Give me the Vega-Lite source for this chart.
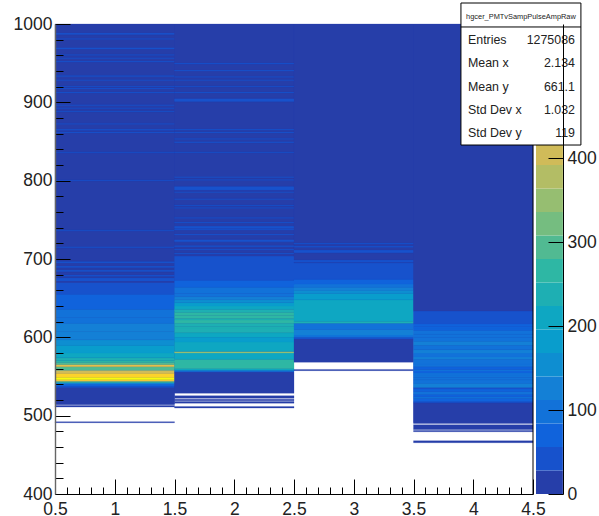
{"$schema":"https://vega.github.io/schema/vega-lite/v6.json","width":478,"height":470,"autosize":"none","padding":{"left":55,"top":24,"right":66,"bottom":22},"background":"white","config":{"view":{"stroke":null},"font":"Liberation Sans"},
"datasets":{"cells":[
{"s0":0.5,"s1":1.5,"lo":491,"hi":492.3,"z":10},{"s0":0.5,"s1":1.5,"lo":511,"hi":513,"z":10},{"s0":0.5,"s1":1.5,"lo":514,"hi":536,"z":10},{"s0":0.5,"s1":1.5,"lo":536,"hi":538,"z":45},{"s0":0.5,"s1":1.5,"lo":538,"hi":540,"z":75},{"s0":0.5,"s1":1.5,"lo":540,"hi":542,"z":130},{"s0":0.5,"s1":1.5,"lo":542,"hi":544,"z":270},{"s0":0.5,"s1":1.5,"lo":544,"hi":546,"z":470},{"s0":0.5,"s1":1.5,"lo":546,"hi":549,"z":535},{"s0":0.5,"s1":1.5,"lo":549,"hi":554,"z":490},{"s0":0.5,"s1":1.5,"lo":554,"hi":558,"z":400},{"s0":0.5,"s1":1.5,"lo":558,"hi":562.5,"z":285},{"s0":0.5,"s1":1.5,"lo":562.5,"hi":565.3,"z":440},{"s0":0.5,"s1":1.5,"lo":565.3,"hi":568,"z":300},{"s0":0.5,"s1":1.5,"lo":568,"hi":570,"z":270},{"s0":0.5,"s1":1.5,"lo":570,"hi":574,"z":250},{"s0":0.5,"s1":1.5,"lo":574,"hi":580,"z":215},{"s0":0.5,"s1":1.5,"lo":580,"hi":590,"z":190},{"s0":0.5,"s1":1.5,"lo":590,"hi":597,"z":160},{"s0":0.5,"s1":1.5,"lo":597,"hi":607,"z":125},{"s0":0.5,"s1":1.5,"lo":607,"hi":618,"z":115},{"s0":0.5,"s1":1.5,"lo":618,"hi":625,"z":100},{"s0":0.5,"s1":1.5,"lo":625,"hi":636,"z":85},{"s0":0.5,"s1":1.5,"lo":636,"hi":655,"z":60},{"s0":0.5,"s1":1.5,"lo":655,"hi":670,"z":42},{"s0":0.5,"s1":1.5,"lo":670,"hi":672,"z":15},{"s0":0.5,"s1":1.5,"lo":672,"hi":676,"z":42},{"s0":0.5,"s1":1.5,"lo":676,"hi":678,"z":15},{"s0":0.5,"s1":1.5,"lo":678,"hi":680,"z":42},{"s0":0.5,"s1":1.5,"lo":680,"hi":684,"z":15},{"s0":0.5,"s1":1.5,"lo":684,"hi":686,"z":42},{"s0":0.5,"s1":1.5,"lo":686,"hi":689,"z":15},{"s0":0.5,"s1":1.5,"lo":689,"hi":691,"z":42},{"s0":0.5,"s1":1.5,"lo":691,"hi":695,"z":15},{"s0":0.5,"s1":1.5,"lo":695,"hi":697,"z":42},{"s0":0.5,"s1":1.5,"lo":697,"hi":714.5,"z":10},
{"s0":0.5,"s1":1.5,"lo":714.5,"hi":715.8,"z":35},{"s0":0.5,"s1":1.5,"lo":715.8,"hi":736,"z":10},{"s0":0.5,"s1":1.5,"lo":736,"hi":737.5,"z":35},{"s0":0.5,"s1":1.5,"lo":737.5,"hi":800,"z":10},{"s0":0.5,"s1":1.5,"lo":800,"hi":801.3,"z":35},{"s0":0.5,"s1":1.5,"lo":801.3,"hi":835.5,"z":10},{"s0":0.5,"s1":1.5,"lo":835.5,"hi":837,"z":35},{"s0":0.5,"s1":1.5,"lo":837,"hi":861,"z":10},{"s0":0.5,"s1":1.5,"lo":861,"hi":862.3,"z":35},{"s0":0.5,"s1":1.5,"lo":862.3,"hi":864.5,"z":10},{"s0":0.5,"s1":1.5,"lo":864.5,"hi":865.8,"z":35},{"s0":0.5,"s1":1.5,"lo":865.8,"hi":872,"z":10},{"s0":0.5,"s1":1.5,"lo":872,"hi":873.3,"z":35},{"s0":0.5,"s1":1.5,"lo":873.3,"hi":888,"z":10},{"s0":0.5,"s1":1.5,"lo":888,"hi":889.3,"z":35},{"s0":0.5,"s1":1.5,"lo":889.3,"hi":892,"z":10},{"s0":0.5,"s1":1.5,"lo":892,"hi":893.3,"z":35},{"s0":0.5,"s1":1.5,"lo":893.3,"hi":896,"z":10},{"s0":0.5,"s1":1.5,"lo":896,"hi":897.3,"z":35},{"s0":0.5,"s1":1.5,"lo":897.3,"hi":912,"z":10},{"s0":0.5,"s1":1.5,"lo":912,"hi":913.3,"z":35},{"s0":0.5,"s1":1.5,"lo":913.3,"hi":917,"z":10},{"s0":0.5,"s1":1.5,"lo":917,"hi":918.3,"z":35},{"s0":0.5,"s1":1.5,"lo":918.3,"hi":920,"z":10},{"s0":0.5,"s1":1.5,"lo":920,"hi":921.3,"z":35},{"s0":0.5,"s1":1.5,"lo":921.3,"hi":928,"z":10},{"s0":0.5,"s1":1.5,"lo":928,"hi":929.3,"z":35},{"s0":0.5,"s1":1.5,"lo":929.3,"hi":933,"z":10},{"s0":0.5,"s1":1.5,"lo":933,"hi":934.5,"z":35},{"s0":0.5,"s1":1.5,"lo":934.5,"hi":951.5,"z":10},{"s0":0.5,"s1":1.5,"lo":951.5,"hi":952.8,"z":35},{"s0":0.5,"s1":1.5,"lo":952.8,"hi":956,"z":10},{"s0":0.5,"s1":1.5,"lo":956,"hi":957.3,"z":35},{"s0":0.5,"s1":1.5,"lo":957.3,"hi":960,"z":10},{"s0":0.5,"s1":1.5,"lo":960,"hi":961.3,"z":35},{"s0":0.5,"s1":1.5,"lo":961.3,"hi":968,"z":10},{"s0":0.5,"s1":1.5,"lo":968,"hi":970,"z":35},{"s0":0.5,"s1":1.5,"lo":970,"hi":980.5,"z":10},{"s0":0.5,"s1":1.5,"lo":980.5,"hi":981.8,"z":35},{"s0":0.5,"s1":1.5,"lo":981.8,"hi":986.5,"z":10},{"s0":0.5,"s1":1.5,"lo":986.5,"hi":988.5,"z":35},{"s0":0.5,"s1":1.5,"lo":988.5,"hi":1000,"z":10},
{"s0":1.5,"s1":2.5,"lo":509.7,"hi":511.8,"z":10},{"s0":1.5,"s1":2.5,"lo":516,"hi":518,"z":10},{"s0":1.5,"s1":2.5,"lo":519.1,"hi":520.9,"z":10},{"s0":1.5,"s1":2.5,"lo":522.2,"hi":525.5,"z":10},{"s0":1.5,"s1":2.5,"lo":528.6,"hi":556,"z":10},{"s0":1.5,"s1":2.5,"lo":556,"hi":558,"z":110},{"s0":1.5,"s1":2.5,"lo":558,"hi":560,"z":200},{"s0":1.5,"s1":2.5,"lo":560,"hi":572,"z":260},{"s0":1.5,"s1":2.5,"lo":572,"hi":580,"z":220},{"s0":1.5,"s1":2.5,"lo":580,"hi":582,"z":345},{"s0":1.5,"s1":2.5,"lo":582,"hi":594,"z":205},{"s0":1.5,"s1":2.5,"lo":594,"hi":600,"z":195},{"s0":1.5,"s1":2.5,"lo":600,"hi":606,"z":215},{"s0":1.5,"s1":2.5,"lo":606,"hi":612,"z":235},{"s0":1.5,"s1":2.5,"lo":612,"hi":614,"z":235},{"s0":1.5,"s1":2.5,"lo":614,"hi":618,"z":250},{"s0":1.5,"s1":2.5,"lo":618,"hi":622,"z":270},{"s0":1.5,"s1":2.5,"lo":622,"hi":624,"z":240},{"s0":1.5,"s1":2.5,"lo":624,"hi":628,"z":275},{"s0":1.5,"s1":2.5,"lo":628,"hi":632,"z":265},{"s0":1.5,"s1":2.5,"lo":632,"hi":636,"z":240},{"s0":1.5,"s1":2.5,"lo":636,"hi":640,"z":215},{"s0":1.5,"s1":2.5,"lo":640,"hi":644,"z":195},{"s0":1.5,"s1":2.5,"lo":644,"hi":648,"z":160},{"s0":1.5,"s1":2.5,"lo":648,"hi":652,"z":130},{"s0":1.5,"s1":2.5,"lo":652,"hi":656,"z":110},{"s0":1.5,"s1":2.5,"lo":656,"hi":664,"z":95},{"s0":1.5,"s1":2.5,"lo":664,"hi":673,"z":75},{"s0":1.5,"s1":2.5,"lo":673,"hi":703.8,"z":45},
{"s0":1.5,"s1":2.5,"lo":703.8,"hi":706.4,"z":12},{"s0":1.5,"s1":2.5,"lo":706.4,"hi":707.7,"z":35},{"s0":1.5,"s1":2.5,"lo":707.7,"hi":711.5,"z":12},{"s0":1.5,"s1":2.5,"lo":711.5,"hi":712.8,"z":35},{"s0":1.5,"s1":2.5,"lo":712.8,"hi":715.7,"z":12},{"s0":1.5,"s1":2.5,"lo":715.7,"hi":717.5,"z":35},{"s0":1.5,"s1":2.5,"lo":717.5,"hi":722,"z":12},{"s0":1.5,"s1":2.5,"lo":722,"hi":725,"z":35},{"s0":1.5,"s1":2.5,"lo":725,"hi":730.6,"z":12},{"s0":1.5,"s1":2.5,"lo":730.6,"hi":731.9,"z":35},{"s0":1.5,"s1":2.5,"lo":731.9,"hi":737,"z":12},{"s0":1.5,"s1":2.5,"lo":737,"hi":738.3,"z":35},{"s0":1.5,"s1":2.5,"lo":738.3,"hi":739,"z":12},{"s0":1.5,"s1":2.5,"lo":739,"hi":742,"z":35},{"s0":1.5,"s1":2.5,"lo":742,"hi":746,"z":12},{"s0":1.5,"s1":2.5,"lo":746,"hi":747.3,"z":35},{"s0":1.5,"s1":2.5,"lo":747.3,"hi":752,"z":12},{"s0":1.5,"s1":2.5,"lo":752,"hi":753.3,"z":35},{"s0":1.5,"s1":2.5,"lo":753.3,"hi":764.7,"z":12},{"s0":1.5,"s1":2.5,"lo":764.7,"hi":766,"z":35},{"s0":1.5,"s1":2.5,"lo":766,"hi":768,"z":12},{"s0":1.5,"s1":2.5,"lo":768,"hi":769.3,"z":35},{"s0":1.5,"s1":2.5,"lo":769.3,"hi":776,"z":12},{"s0":1.5,"s1":2.5,"lo":776,"hi":777.3,"z":35},{"s0":1.5,"s1":2.5,"lo":777.3,"hi":785,"z":12},{"s0":1.5,"s1":2.5,"lo":785,"hi":786.3,"z":35},{"s0":1.5,"s1":2.5,"lo":786.3,"hi":788,"z":12},{"s0":1.5,"s1":2.5,"lo":788,"hi":793,"z":35},{"s0":1.5,"s1":2.5,"lo":793,"hi":800.5,"z":12},{"s0":1.5,"s1":2.5,"lo":800.5,"hi":801.8,"z":35},{"s0":1.5,"s1":2.5,"lo":801.8,"hi":804,"z":12},{"s0":1.5,"s1":2.5,"lo":804,"hi":805.3,"z":35},{"s0":1.5,"s1":2.5,"lo":805.3,"hi":835.7,"z":12},{"s0":1.5,"s1":2.5,"lo":835.7,"hi":837,"z":35},{"s0":1.5,"s1":2.5,"lo":837,"hi":848.5,"z":12},{"s0":1.5,"s1":2.5,"lo":848.5,"hi":850,"z":35},{"s0":1.5,"s1":2.5,"lo":850,"hi":852.8,"z":12},{"s0":1.5,"s1":2.5,"lo":852.8,"hi":854.1,"z":35},{"s0":1.5,"s1":2.5,"lo":854.1,"hi":861,"z":12},{"s0":1.5,"s1":2.5,"lo":861,"hi":862.3,"z":35},{"s0":1.5,"s1":2.5,"lo":862.3,"hi":864.8,"z":12},{"s0":1.5,"s1":2.5,"lo":864.8,"hi":866.1,"z":35},{"s0":1.5,"s1":2.5,"lo":866.1,"hi":901,"z":12},{"s0":1.5,"s1":2.5,"lo":901,"hi":905,"z":35},{"s0":1.5,"s1":2.5,"lo":905,"hi":912,"z":12},{"s0":1.5,"s1":2.5,"lo":912,"hi":913.3,"z":35},{"s0":1.5,"s1":2.5,"lo":913.3,"hi":920,"z":12},{"s0":1.5,"s1":2.5,"lo":920,"hi":921.3,"z":35},{"s0":1.5,"s1":2.5,"lo":921.3,"hi":928,"z":12},{"s0":1.5,"s1":2.5,"lo":928,"hi":929.3,"z":35},{"s0":1.5,"s1":2.5,"lo":929.3,"hi":932,"z":12},{"s0":1.5,"s1":2.5,"lo":932,"hi":933.3,"z":35},{"s0":1.5,"s1":2.5,"lo":933.3,"hi":940,"z":12},{"s0":1.5,"s1":2.5,"lo":940,"hi":941.3,"z":35},{"s0":1.5,"s1":2.5,"lo":941.3,"hi":949,"z":12},{"s0":1.5,"s1":2.5,"lo":949,"hi":950.3,"z":35},{"s0":1.5,"s1":2.5,"lo":950.3,"hi":1000,"z":12},
{"s0":2.5,"s1":3.5,"lo":557.5,"hi":559,"z":10},{"s0":2.5,"s1":3.5,"lo":568.2,"hi":598,"z":10},{"s0":2.5,"s1":3.5,"lo":598,"hi":600,"z":45},{"s0":2.5,"s1":3.5,"lo":600,"hi":603,"z":100},{"s0":2.5,"s1":3.5,"lo":603,"hi":610,"z":135},{"s0":2.5,"s1":3.5,"lo":610,"hi":618,"z":100},{"s0":2.5,"s1":3.5,"lo":618,"hi":620.5,"z":250},{"s0":2.5,"s1":3.5,"lo":620.5,"hi":648,"z":215},{"s0":2.5,"s1":3.5,"lo":648,"hi":656,"z":185},{"s0":2.5,"s1":3.5,"lo":656,"hi":660,"z":155},{"s0":2.5,"s1":3.5,"lo":660,"hi":664,"z":130},{"s0":2.5,"s1":3.5,"lo":664,"hi":668,"z":100},{"s0":2.5,"s1":3.5,"lo":668,"hi":674,"z":75},{"s0":2.5,"s1":3.5,"lo":674,"hi":695,"z":45},{"s0":2.5,"s1":3.5,"lo":695,"hi":696,"z":15},{"s0":2.5,"s1":3.5,"lo":696,"hi":699,"z":35},{"s0":2.5,"s1":3.5,"lo":699,"hi":708,"z":15},{"s0":2.5,"s1":3.5,"lo":708,"hi":711.5,"z":35},{"s0":2.5,"s1":3.5,"lo":711.5,"hi":715,"z":15},{"s0":2.5,"s1":3.5,"lo":715,"hi":716.5,"z":35},{"s0":2.5,"s1":3.5,"lo":716.5,"hi":719,"z":15},{"s0":2.5,"s1":3.5,"lo":719,"hi":720.5,"z":35},{"s0":2.5,"s1":3.5,"lo":720.5,"hi":1000,"z":8},
{"s0":3.5,"s1":4.5,"lo":465.5,"hi":468,"z":10},{"s0":3.5,"s1":4.5,"lo":479.5,"hi":481,"z":10},{"s0":3.5,"s1":4.5,"lo":481.8,"hi":482.5,"z":10},{"s0":3.5,"s1":4.5,"lo":483,"hi":488.5,"z":10},{"s0":3.5,"s1":4.5,"lo":490,"hi":516.5,"z":10},{"s0":3.5,"s1":4.5,"lo":516.5,"hi":518,"z":45},{"s0":3.5,"s1":4.5,"lo":518,"hi":522,"z":70},{"s0":3.5,"s1":4.5,"lo":522,"hi":524,"z":100},{"s0":3.5,"s1":4.5,"lo":524,"hi":527,"z":75},{"s0":3.5,"s1":4.5,"lo":527,"hi":531,"z":100},{"s0":3.5,"s1":4.5,"lo":531,"hi":534,"z":75},{"s0":3.5,"s1":4.5,"lo":534,"hi":536,"z":45},{"s0":3.5,"s1":4.5,"lo":536,"hi":541.3,"z":130},{"s0":3.5,"s1":4.5,"lo":541.3,"hi":546,"z":110},{"s0":3.5,"s1":4.5,"lo":546,"hi":549,"z":100},{"s0":3.5,"s1":4.5,"lo":549,"hi":552,"z":111},{"s0":3.5,"s1":4.5,"lo":552,"hi":554.5,"z":85},{"s0":3.5,"s1":4.5,"lo":554.5,"hi":557,"z":60},{"s0":3.5,"s1":4.5,"lo":557,"hi":559,"z":90},{"s0":3.5,"s1":4.5,"lo":559,"hi":562.5,"z":70},{"s0":3.5,"s1":4.5,"lo":562.5,"hi":566,"z":90},{"s0":3.5,"s1":4.5,"lo":566,"hi":572,"z":100},{"s0":3.5,"s1":4.5,"lo":572,"hi":575,"z":120},{"s0":3.5,"s1":4.5,"lo":575,"hi":580,"z":100},{"s0":3.5,"s1":4.5,"lo":580,"hi":584,"z":115},{"s0":3.5,"s1":4.5,"lo":584,"hi":590,"z":100},{"s0":3.5,"s1":4.5,"lo":590,"hi":595,"z":115},{"s0":3.5,"s1":4.5,"lo":595,"hi":600,"z":100},{"s0":3.5,"s1":4.5,"lo":600,"hi":604,"z":95},{"s0":3.5,"s1":4.5,"lo":604,"hi":609,"z":90},{"s0":3.5,"s1":4.5,"lo":609,"hi":612,"z":75},{"s0":3.5,"s1":4.5,"lo":612,"hi":614,"z":60},{"s0":3.5,"s1":4.5,"lo":614,"hi":617,"z":80},{"s0":3.5,"s1":4.5,"lo":617,"hi":633.5,"z":45},{"s0":3.5,"s1":4.5,"lo":633.5,"hi":1000,"z":8}
],
"under":[{"s0":0.5,"s1":4.5,"lo":634,"hi":1000},{"s0":0.5,"s1":3.5,"lo":569,"hi":634},{"s0":0.5,"s1":2.5,"lo":529,"hi":569},{"s0":3.5,"s1":4.5,"lo":491,"hi":634},{"s0":0.5,"s1":1.5,"lo":515,"hi":529}],
"levels":[{"lo":0,"hi":28,"z":14},{"lo":28,"hi":56,"z":42},{"lo":56,"hi":84,"z":70},{"lo":84,"hi":112,"z":98},{"lo":112,"hi":140,"z":126},{"lo":140,"hi":168,"z":154},{"lo":168,"hi":196,"z":182},{"lo":196,"hi":224,"z":210},{"lo":224,"hi":252,"z":238},{"lo":252,"hi":280,"z":266},{"lo":280,"hi":308,"z":294},{"lo":308,"hi":336,"z":322},{"lo":336,"hi":364,"z":350},{"lo":364,"hi":392,"z":378},{"lo":392,"hi":420,"z":406},{"lo":420,"hi":448,"z":434},{"lo":448,"hi":476,"z":462},{"lo":476,"hi":504,"z":490},{"lo":504,"hi":532,"z":518},{"lo":532,"hi":560,"z":546}],
"stats":[{"stat":"Entries","value":"1275086"},{"stat":"Mean x","value":"2.134"},{"stat":"Mean y","value":"661.1"},{"stat":"Std Dev x","value":"1.032"},{"stat":"Std Dev y","value":"119"}]},
"resolve":{"scale":{"y":"independent"}},
"layer":[
{"data":{"name":"under"},"mark":{"type":"rect","fill":"#263ea9"},"encoding":{"x":{"field":"s0","type":"quantitative"},"x2":{"field":"s1"},"y":{"field":"lo","type":"quantitative","scale":{"domain":[400,1000],"nice":false,"zero":false},"axis":null},"y2":{"field":"hi"}}},
{"data":{"name":"cells"},"mark":{"type":"rect","strokeWidth":0.25},"encoding":{
"x":{"field":"s0","type":"quantitative","scale":{"domain":[0.5,4.5],"nice":false,"zero":false},"axis":{"values":[0.5,0.6,0.7,0.8,0.9,1,1.1,1.2,1.3,1.4,1.5,1.6,1.7,1.8,1.9,2,2.1,2.2,2.3,2.4,2.5,2.6,2.7,2.8,2.9,3,3.1,3.2,3.3,3.4,3.5,3.6,3.7,3.8,3.9,4,4.1,4.2,4.3,4.4,4.5],"tickCount":200,"title":null,"grid":false,"zindex":1,"domainColor":"black","tickColor":"black","tickSize":{"condition":{"test":"abs(datum.value*2-round(datum.value*2))<0.001","value":-15},"value":-7},"labelExpr":"abs(datum.value*2-round(datum.value*2))<0.001 ? format(datum.value,'.2~f') : ''","labelOverlap":false,"labelFontSize":17.5,"labelColor":"#222","labelPadding":21,"labelFlush":false}},
"x2":{"field":"s1"},
"y":{"field":"lo","type":"quantitative","scale":{"domain":[400,1000],"nice":false,"zero":false},"axis":{"values":[400,420,440,460,480,500,520,540,560,580,600,620,640,660,680,700,720,740,760,780,800,820,840,860,880,900,920,940,960,980,1000],"tickCount":200,"title":null,"grid":false,"zindex":1,"domainColor":"#666","domainWidth":1.4,"tickColor":"black","tickSize":{"condition":{"test":"datum.value%100==0","value":-15},"value":-8},"labelExpr":"datum.value%100==0 ? datum.value : ''","labelOverlap":false,"labelFontSize":17.5,"labelColor":"#222","labelPadding":18,"labelFlush":false}},
"y2":{"field":"hi"},
"color":{"field":"z","type":"quantitative","legend":null,"scale":{"type":"threshold","domain":[28,56,84,112,140,168,196,224,252,280,308,336,364,392,420,448,476,504,532],"range":["#263ea9","#1752cc","#1063dc","#1272d9","#1480d6","#0e8ed1","#099dcc","#0ea7c2","#1eafb3","#2eb7a4","#51ba92","#75bd80","#96be71","#b3bd65","#d0bb59","#e3c04a","#f5c63a","#fdd22b","#fbe61c","#f9fb0e"]}},
"stroke":{"field":"z","type":"quantitative","legend":null,"scale":{"type":"threshold","domain":[28,56,84,112,140,168,196,224,252,280,308,336,364,392,420,448,476,504,532],"range":["#263ea9","#1752cc","#1063dc","#1272d9","#1480d6","#0e8ed1","#099dcc","#0ea7c2","#1eafb3","#2eb7a4","#51ba92","#75bd80","#96be71","#b3bd65","#d0bb59","#e3c04a","#f5c63a","#fdd22b","#fbe61c","#f9fb0e"]}}
}},
{"mark":{"type":"rule","color":"black","strokeWidth":1},"data":{"values":[{"edge":4.5,"lo":400,"hi":1000}]},"encoding":{"x":{"field":"edge","type":"quantitative"},"y":{"field":"lo","type":"quantitative","scale":{"domain":[400,1000],"nice":false,"zero":false},"axis":null},"y2":{"field":"hi"}}},
{"data":{"name":"levels"},"mark":{"type":"rect","clip":false},"encoding":{
"x":{"datum":4.525},"x2":{"datum":4.75},
"y":{"field":"lo","type":"quantitative","scale":{"domain":[0,560],"nice":false,"zero":false},"axis":{"orient":"right","offset":30,"values":[0,100,200,300,400],"tickCount":200,"title":null,"grid":false,"zindex":1,"domainColor":"black","tickColor":"black","tickSize":-15,"labelFontSize":17.5,"labelColor":"#222","labelPadding":19,"labelFlush":false,"labelOverlap":false}},
"y2":{"field":"hi"},
"color":{"field":"z","type":"quantitative","legend":null,"scale":{"type":"threshold","domain":[28,56,84,112,140,168,196,224,252,280,308,336,364,392,420,448,476,504,532],"range":["#263ea9","#1752cc","#1063dc","#1272d9","#1480d6","#0e8ed1","#099dcc","#0ea7c2","#1eafb3","#2eb7a4","#51ba92","#75bd80","#96be71","#b3bd65","#d0bb59","#e3c04a","#f5c63a","#fdd22b","#fbe61c","#f9fb0e"]}}
}},
{"data":{"values":[{"box":"stats"}]},"mark":{"type":"rect","fill":"white","stroke":"black","strokeWidth":1,"clip":false},"encoding":{"x":{"datum":3.897},"x2":{"datum":4.901},"y":{"datum":1026.8,"scale":{"domain":[400,1000],"nice":false,"zero":false},"axis":null},"y2":{"datum":845.5}}},
{"data":{"values":[{"box":"header"}]},"mark":{"type":"rule","color":"black","strokeWidth":1,"clip":false},"encoding":{"x":{"datum":3.897},"x2":{"datum":4.901},"y":{"datum":996.2,"scale":{"domain":[400,1000],"nice":false,"zero":false},"axis":null}}},
{"data":{"values":[{"name":"hgcer_PMTvSampPulseAmpRaw"}]},"mark":{"type":"text","fontSize":7.4,"align":"center","baseline":"middle","color":"#222","font":"Liberation Sans"},"encoding":{"x":{"datum":4.399},"y":{"datum":1009,"scale":{"domain":[400,1000],"nice":false,"zero":false},"axis":null},"text":{"field":"name"}}},
{"data":{"name":"stats"},"mark":{"type":"text","fontSize":12.4,"align":"left","baseline":"middle","color":"#222","font":"Liberation Sans"},"encoding":{"x":{"datum":3.956},"y":{"field":"stat","type":"ordinal","sort":null,"scale":{"domain":["Entries","Mean x","Mean y","Std Dev x","Std Dev y"],"range":[16,109],"padding":0},"axis":null},"text":{"field":"stat"}}},
{"data":{"name":"stats"},"mark":{"type":"text","fontSize":12.4,"align":"right","baseline":"middle","color":"#222","font":"Liberation Sans"},"encoding":{"x":{"datum":4.851},"y":{"field":"stat","type":"ordinal","sort":null,"scale":{"domain":["Entries","Mean x","Mean y","Std Dev x","Std Dev y"],"range":[16,109],"padding":0},"axis":null},"text":{"field":"value"}}}
]}
